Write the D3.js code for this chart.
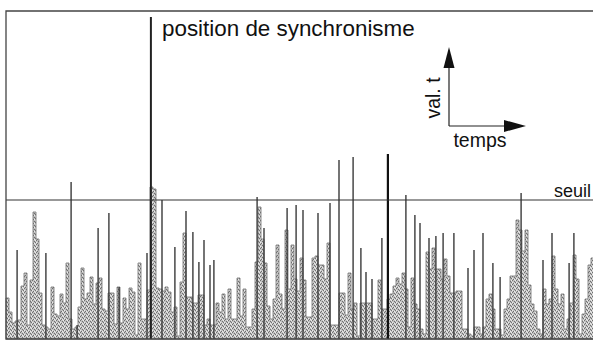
<!DOCTYPE html>
<html><head><meta charset="utf-8">
<script src="https://cdn.jsdelivr.net/npm/d3@7"></script>
<style>
html,body{margin:0;padding:0;background:#fff;}
svg{display:block;font-family:"Liberation Sans",Arial,sans-serif;}
</style></head>
<body><svg id="c" width="593" height="342"></svg>
<script>
// gray envelope (one value per time sample)
const envelope = [41,27,16,18,19,53,66,14,59,127,100,46,14,12,10,52,25,23,45,36,76,20,10,12,32,71,40,46,62,35,56,61,30,28,46,46,15,52,16,41,30,51,47,4,76,20,20,49,152,150,51,50,48,52,47,27,32,3,57,106,42,42,36,36,44,44,14,20,14,14,36,27,45,20,50,20,20,61,23,50,12,12,30,77,132,100,76,33,20,40,94,45,30,109,50,94,60,48,81,59,22,22,81,83,74,74,60,96,14,14,14,46,46,24,66,30,36,3,36,36,36,36,20,20,59,30,30,40,45,53,61,55,66,50,12,61,35,30,10,5,87,70,91,70,70,60,80,63,46,46,48,48,10,10,5,3,12,12,5,12,40,45,30,10,10,4,30,40,63,63,119,109,88,109,54,35,28,10,5,50,35,40,83,50,35,45,10,20,36,84,60,5,25,40,74,81];
// dark peak lines
const peakTimes  = [3.7,13.3,21.7,23.7,30.7,34.3,37.7,47,52,56.3,60,62.3,64.3,66,68,69.3,83.7,86,93.7,96.7,99,104,108,111,115.7,118.3,120,122,125.3,127.3,133.3,136.3,138,141,143.3,145.7,149.3,154,156,159,162.3,164.7,171.7,179,182,187.7,189.3];
const peakValues = [89,86,157,14,111,126,52,86,139,92,128,107,77,99,74,79,142,111,131,134,129,126,136,179,182,91,67,60,101,185,144,124,116,101,103,106,106,71,89,106,76,62,146,79,106,76,106];
const syncTime = 48.3, syncValue = 322;
const threshold = 139;
const labels = {sync:"position de synchronisme", seuil:"seuil", val:"val. t", temps:"temps"};

const svg = d3.select("#c");
const x = d3.scaleLinear().domain([0, envelope.length]).range([6, 594]);
const y = d3.scaleLinear().domain([0, 328]).range([339, 11]);

// stippled gray pattern
const defs = svg.append("defs");
const pat = defs.append("pattern").attr("id","dither").attr("patternUnits","userSpaceOnUse")
  .attr("width",4).attr("height",4);
pat.append("rect").attr("width",4).attr("height",4).attr("fill","#c2c2c2");
[[0,0],[2,1],[1,3],[3,2]].forEach(p=>pat.append("rect").attr("x",p[0]).attr("y",p[1]).attr("width",1).attr("height",1).attr("fill","#707070"));
[[2,3],[0,2],[3,0]].forEach(p=>pat.append("rect").attr("x",p[0]).attr("y",p[1]).attr("width",1).attr("height",1).attr("fill","#ececec"));

// envelope as step area
const pts = envelope.map((v,i)=>[i,v]).concat([[envelope.length, envelope[envelope.length-1]]]);
svg.append("path")
  .attr("d", d3.area().curve(d3.curveStepAfter).x(d=>x(d[0])).y0(y(0)).y1(d=>y(d[1]))(pts))
  .attr("fill","url(#dither)").attr("stroke","#707070").attr("stroke-width",0.8);

// peaks
svg.selectAll("line.pk").data(peakTimes).join("line").attr("class","pk")
  .attr("x1",d=>x(d)).attr("x2",d=>x(d))
  .attr("y1",y(0)).attr("y2",(d,i)=>y(peakValues[i]))
  .attr("stroke",(d,i)=>peakValues[i]>184?"#111":"#3a3a3a")
  .attr("stroke-width",(d,i)=>peakValues[i]>184?2.2:1.4);

// sync spike
svg.append("line").attr("x1",x(syncTime)).attr("x2",x(syncTime))
  .attr("y1",y(0)).attr("y2",y(syncValue)).attr("stroke","#222").attr("stroke-width",2);

// threshold
svg.append("line").attr("x1",6).attr("x2",593).attr("y1",y(threshold)).attr("y2",y(threshold))
  .attr("stroke","#333").attr("stroke-width",1.2);

// frame
svg.append("path").attr("d",`M593,${y(328)}H6V${y(0)}H593`).attr("fill","none")
  .attr("stroke","#444").attr("stroke-width",1.3);

// texts
svg.append("text").attr("x",162).attr("y",36).attr("font-size",22.4).attr("fill","#111").text(labels.sync);
svg.append("text").attr("x",591).attr("y",197).attr("text-anchor","end").attr("font-size",18).attr("fill","#111").text(labels.seuil);

// axis icon
const g = svg.append("g");
g.append("line").attr("x1",449).attr("x2",449).attr("y1",126).attr("y2",66).attr("stroke","#222").attr("stroke-width",1.2);
g.append("line").attr("x1",449).attr("x2",506).attr("y1",126).attr("y2",126).attr("stroke","#222").attr("stroke-width",1.2);
g.append("path").attr("d","M449,47L443.5,68L454.5,68Z").attr("fill","#111");
g.append("path").attr("d","M526,126L504,120L504,132Z").attr("fill","#111");
g.append("text").attr("transform","translate(440,98) rotate(-90)").attr("text-anchor","middle")
  .attr("font-size",19.5).attr("fill","#111").text(labels.val);
g.append("text").attr("x",480).attr("y",147).attr("text-anchor","middle").attr("font-size",19.5).attr("fill","#111").text(labels.temps);
</script></body></html>
